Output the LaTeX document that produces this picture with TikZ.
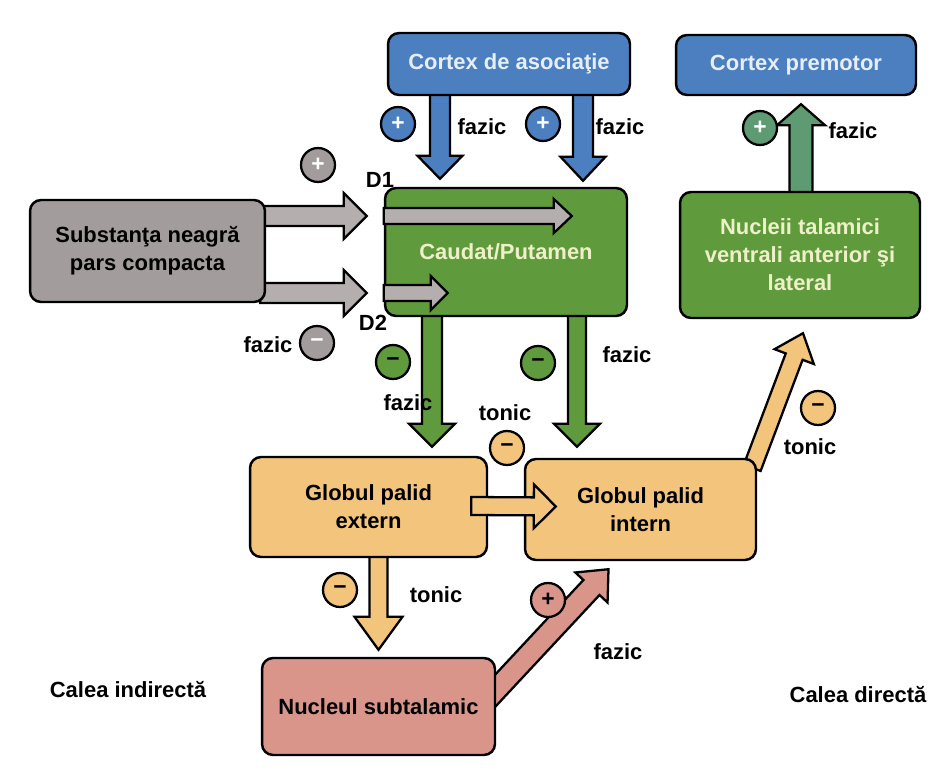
\documentclass[tikz,border=0pt]{standalone}
\usepackage{fontspec}
\setmainfont{Liberation Sans}
\usetikzlibrary{calc,positioning}
\definecolor{boxgray}{HTML}{A39C9C}
\definecolor{arrgray}{HTML}{B5AEAE}
\definecolor{cortexblue}{HTML}{4B7FC0}
\definecolor{nucgreen}{HTML}{5F9A3C}
\definecolor{upgreen}{HTML}{5E9A72}
\definecolor{palorange}{HTML}{F2C47C}
\definecolor{stnpink}{HTML}{D9958A}
\definecolor{paletext}{HTML}{EEF0C8}
\definecolor{bluetext}{HTML}{E6EEF8}
\pgfdeclarelayer{background}
\pgfsetlayers{background,main}

\newcommand{\fatarrow}[6]{%
  \coordinate (fa-s) at (#2);
  \coordinate (fa-e) at (#3);
  \coordinate (fa-n) at ($(fa-e)!#6!(fa-s)$);
  \draw[fat,#1] ($(fa-s)!#4!90:(fa-e)$) -- ($(fa-n)!#4!90:(fa-e)$) -- ($(fa-n)!#5!90:(fa-e)$)
    -- (fa-e) -- ($(fa-n)!#5!-90:(fa-e)$) -- ($(fa-n)!#4!-90:(fa-e)$) -- ($(fa-s)!#4!-90:(fa-e)$) -- cycle;}

\begin{document}
\begin{tikzpicture}[x=0.02cm,y=-0.02cm,
  font=\bfseries\fontsize{12.5}{16}\selectfont,
  box/.style={draw, line width=1.4pt, rounded corners=0.22cm, align=center},
  sign/.style={draw, circle, line width=1.3pt, minimum size=0.68cm, inner sep=0pt, font=\bfseries\fontsize{13}{13}\selectfont},
  lbl/.style={inner sep=1pt},
  fat/.style={draw, line width=1.3pt, line join=miter}]
\useasboundingbox (0,0) rectangle (940,784);
\begin{pgfonlayer}{background}
\fill[white] (0,0) rectangle (940,784);
\end{pgfonlayer}

\node[box, fill=boxgray, minimum width=4.7cm, minimum height=2.04cm] (subst) at (147.5,251) {Substanţa neagră\\pars compacta};
\node[box, fill=cortexblue, text=bluetext, minimum width=4.84cm, minimum height=1.24cm] (asoc) at (509,64) {Cortex de asociaţie};
\node[box, fill=cortexblue, text=bluetext, minimum width=4.8cm, minimum height=1.2cm] (premotor) at (796,65) {Cortex premotor};
\node[box, fill=nucgreen, text=paletext, minimum width=4.84cm, minimum height=2.56cm] (caudat) at (506,252) {Caudat/Putamen};
\node[box, fill=nucgreen, text=paletext, minimum width=4.8cm, minimum height=2.52cm] (talamus) at (800,255) {Nucleii talamici\\ventrali anterior şi\\lateral};
\node[box, fill=palorange, minimum width=4.74cm, minimum height=2cm] (gpe) at (368.5,507) {Globul palid\\extern};
\node[box, fill=palorange, minimum width=4.62cm, minimum height=2.02cm] (gpi) at (640.5,509.5) {Globul palid\\intern};
\node[box, fill=stnpink, minimum width=4.66cm, minimum height=1.94cm] (stn) at (378.5,706.5) {Nucleul subtalamic};

\begin{pgfonlayer}{background}
\fatarrow{fill=cortexblue}{$(asoc.south)+(-69,-6)$}{$(caudat.north)+(-66,-8)$}{0.2cm}{0.45cm}{0.46cm}
\fatarrow{fill=cortexblue}{$(asoc.south)+(74,-6)$}{$(caudat.north)+(77,-6)$}{0.2cm}{0.45cm}{0.48cm}
\fatarrow{fill=upgreen}{$(talamus.north)+(1,6)$}{$(premotor.south)+(5,8)$}{0.23cm}{0.48cm}{0.42cm}
\fatarrow{fill=arrgray}{$(subst.east)+(-6,-35)$}{$(caudat.west)+(-17,-36)$}{0.2cm}{0.46cm}{0.46cm}
\fatarrow{fill=arrgray}{$(subst.east)+(-6,42)$}{$(caudat.west)+(-17,41)$}{0.2cm}{0.46cm}{0.46cm}
\fatarrow{fill=nucgreen}{$(caudat.south)+(-74,-6)$}{$(gpe.north)+(63.5,-9)$}{0.2cm}{0.46cm}{0.46cm}
\fatarrow{fill=nucgreen}{$(caudat.south)+(71,-6)$}{$(gpi.north)+(-63.5,-11)$}{0.18cm}{0.46cm}{0.46cm}
\fatarrow{fill=palorange}{$(gpi.north east)+(-5,10)$}{$(talamus.south)+(3,14)$}{0.18cm}{0.42cm}{0.5cm}
\fatarrow{fill=palorange}{$(gpe.south)+(10,-6)$}{$(stn.north)+(0,-7)$}{0.18cm}{0.48cm}{0.66cm}
\fatarrow{fill=stnpink}{$(stn.east)+(-12,-4)$}{$(gpi.south)+(-32,8)$}{0.22cm}{0.44cm}{0.5cm}
\end{pgfonlayer}

\fatarrow{fill=arrgray}{$(caudat.west)+(0,-36)$}{$(caudat.west)+(188,-36)$}{0.16cm}{0.34cm}{0.36cm}
\fatarrow{fill=arrgray}{$(caudat.west)+(0,41)$}{$(caudat.west)+(64,41)$}{0.16cm}{0.34cm}{0.34cm}
\fatarrow{fill=palorange}{$(gpe.east)+(-17,-1)$}{$(gpi.west)+(32,-3)$}{0.18cm}{0.44cm}{0.44cm}

\node[sign, fill=boxgray, text=white] (d1sign) at (318,165) {+};
\node[sign, fill=boxgray, text=white] (d2sign) at (317,343) {−};
\node[sign, fill=cortexblue, text=white] (asocsigna) at (398,124) {+};
\node[sign, fill=cortexblue, text=white] (asocsignb) at (543,124) {+};
\node[sign, fill=upgreen, text=white] (premsign) at (760,128) {+};
\node[sign, fill=nucgreen, text=black] (gpesign) at (393,362) {−};
\node[sign, fill=nucgreen, text=black] (gpisign) at (538,363) {−};
\node[sign, fill=palorange] (gpegpisign) at (507,448) {−};
\node[sign, fill=palorange] (talsign) at (818,408) {−};
\node[sign, fill=palorange] (stnsign) at (340,590) {−};
\node[sign, fill=stnpink] (stngpisign) at (548,600) {+};

\node[lbl] (d1) at (380,180) {D1};
\node[lbl] (d2) at (373,323) {D2};
\node[lbl] (fazasoca) at (482,127) {fazic};
\node[lbl] (fazasocb) at (620,127) {fazic};
\node[lbl] (fazprem) at (853,131) {fazic};
\node[lbl] (fazd2) at (268,345) {fazic};
\node[lbl] (fazgpe) at (408,403) {fazic};
\node[lbl] (fazgpi) at (627,355) {fazic};
\node[lbl] (tongpi) at (505,413) {tonic};
\node[lbl] (tontal) at (810,447) {tonic};
\node[lbl] (tonstn) at (436,595) {tonic};
\node[lbl] (fazstn) at (618,652) {fazic};
\node[lbl] (indirect) at (128,690) {Calea indirectă};
\node[lbl] (direct) at (858,695) {Calea directă};
\end{tikzpicture}
\end{document}
